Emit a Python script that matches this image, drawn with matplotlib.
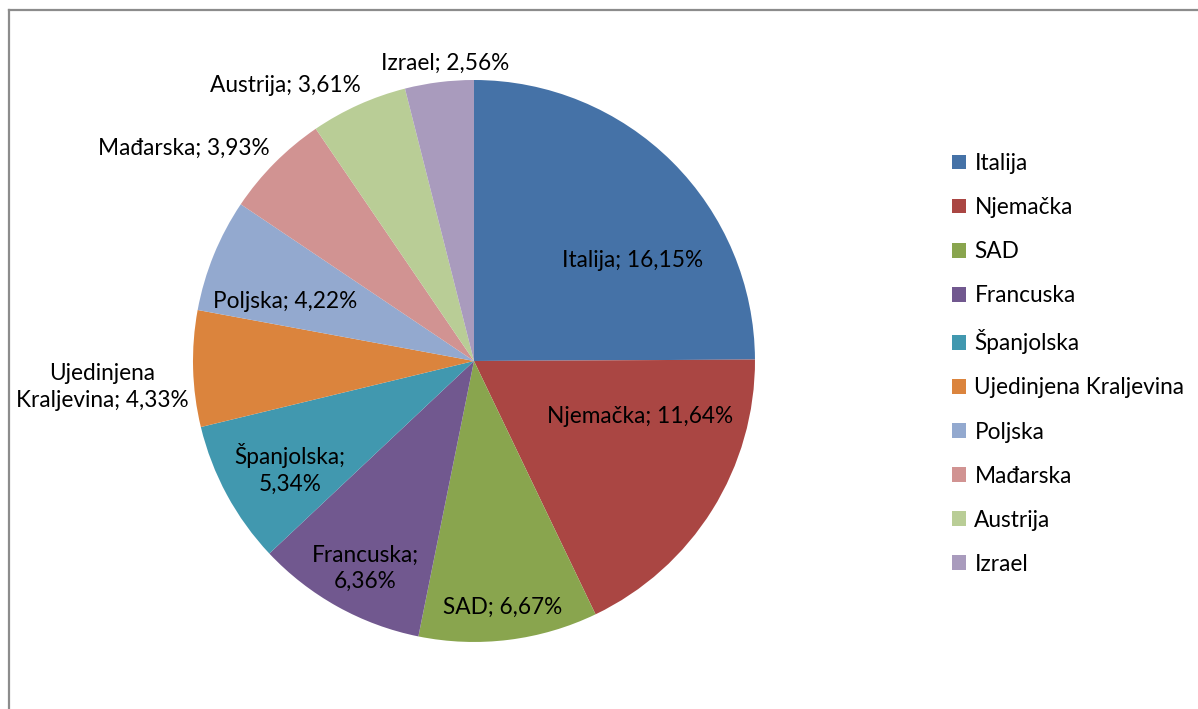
import matplotlib
matplotlib.use("Agg")
import matplotlib.pyplot as plt
from matplotlib.lines import Line2D
from matplotlib.patches import Patch

plt.rcParams['font.family'] = ['Lato', 'DejaVu Sans']

# podaci
drzave = ["Italija", "Njemačka", "SAD", "Francuska", "Španjolska",
          "Ujedinjena Kraljevina", "Poljska", "Mađarska", "Austrija", "Izrael"]
udjeli = [16.15, 11.64, 6.67, 6.36, 5.34, 4.33, 4.22, 3.93, 3.61, 2.56]
oznake = ["Italija; 16,15%", "Njemačka; 11,64%", "SAD; 6,67%", "Francuska;\n6,36%",
          "Španjolska;\n5,34%", "Ujedinjena\nKraljevina; 4,33%", "Poljska; 4,22%",
          "Mađarska; 3,93%", "Austrija; 3,61%", "Izrael; 2,56%"]

boje = ["#4572A7", "#AA4643", "#89A54E", "#71588F", "#4198AF",
        "#DB843D", "#93A9CF", "#D19392", "#B9CD96", "#A99BBD"]

# polozaji oznaka (u jedinicama radijusa)
pozicije = [(0.566, 0.356), (0.591, -0.199), (0.103, -0.875), (-0.388, -0.737),
            (-0.655, -0.384), (-1.324, -0.093), (-0.673, 0.210), (-1.032, 0.758),
            (-0.673, 0.979), (-0.103, 1.060)]

fig = plt.figure(figsize=(11.98, 7.09), dpi=100)
ax = fig.add_axes([0.1611, 0.0945, 0.4691, 0.7927])

wedges, _ = ax.pie(udjeli, colors=boje, startangle=90, counterclock=False,
                   radius=1, wedgeprops=dict(edgecolor="none"))
ax.set_xlim(-1, 1)
ax.set_ylim(-1, 1)
ax.set_aspect("equal")
ax.axis("off")

for txt, (x, y) in zip(oznake, pozicije):
    ax.text(x, y, txt, ha="center", va="center", fontsize=16.3,
            color="black", linespacing=1.32)

# legenda
handles = [Patch(facecolor=c, edgecolor="none") for c in boje]
fig.legend(handles, drzave, loc="upper left", bbox_to_anchor=(0.778, 0.813),
           frameon=False, fontsize=16.3, handlelength=0.62, handleheight=0.62,
           handletextpad=0.35, labelspacing=1.02)

# okvir (gornja i lijeva linija)
fig.add_artist(Line2D([0.0075, 1.0], [0.986, 0.986], color="#8c8c8c", lw=1.6))
fig.add_artist(Line2D([0.0075, 0.0075], [0.0, 0.986], color="#8c8c8c", lw=1.6))

plt.savefig("out.png", dpi=100)
